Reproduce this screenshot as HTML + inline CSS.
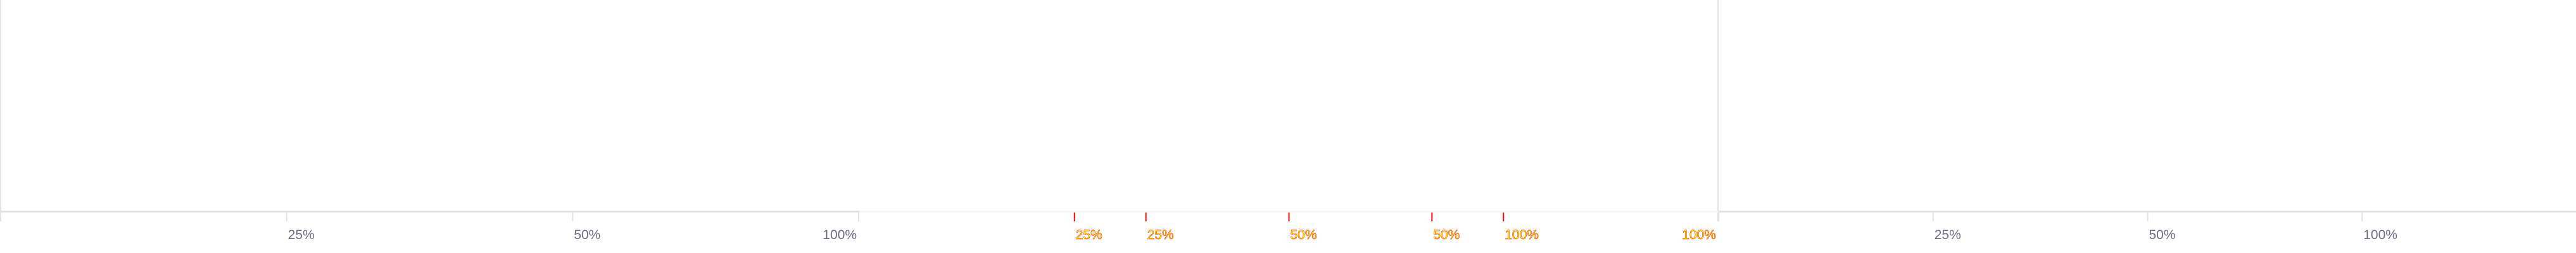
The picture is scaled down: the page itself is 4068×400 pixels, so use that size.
<!DOCTYPE html>
<html><head><meta charset="utf-8"><style>
html,body{margin:0;padding:0;background:#fff;width:4068px;height:400px;overflow:hidden}
svg{display:block}
text{font-family:"Liberation Sans",sans-serif;font-size:21px}
</style></head><body>
<svg id="chart" width="4068" height="400" xmlns="http://www.w3.org/2000/svg">
<rect x="0" y="0" width="4068" height="400" fill="#fff"/>
<rect x="0" y="0" width="2" height="350" fill="#e3e3e3"/>
<rect x="2712" y="0" width="2" height="350" fill="#e3e3e3"/>
<rect x="0" y="333" width="1357" height="3" fill="#e3e3e3"/>
<rect x="1357" y="333" width="1356" height="3" fill="#f6f6f6"/>
<rect x="2713" y="333" width="1355" height="3" fill="#e3e3e3"/>
<g id="ticks"></g>
</svg>
<script>
const panelStarts = [0, 1357, 2713];
const panelWidth = 1355;
const leftFracs = [0, 1/3, 2/3, 1];
const leftLabels = ["", "25%", "50%", "100%"];
const midFracs = [1/4, 1/3, 1/2, 2/3, 3/4, 1];
const midLabels = ["25%", "25%", "50%", "50%", "100%", "100%"];
const rightFracs = [0, 1/4, 1/2, 3/4];
const rightLabels = ["", "25%", "50%", "100%"];

const NS = "http://www.w3.org/2000/svg";
const g = document.getElementById('ticks');
function xScale(panel, f){ return panelStarts[panel] + f * panelWidth; }
function drawAxis(panel, fracs, labels, style){
  fracs.forEach((f, i) => {
    const x = xScale(panel, f);
    const t = document.createElementNS(NS, 'rect');
    
    
    t.setAttribute('x', Math.min(x, 4066));
    t.setAttribute('y', 336);
    t.setAttribute('width', 2);
    t.setAttribute('height', 14);
    t.setAttribute('fill', style === 'red' ? '#ff0000' : '#e3e3e3');
    if (!(style === 'red' && f === 1)) g.appendChild(t);
    if (labels[i]) {
      const tx = document.createElementNS(NS, 'text');
      
      
      tx.setAttribute('x', f === 1 ? x - 2 : x + 3);
      tx.setAttribute('y', 378);
      tx.setAttribute('text-anchor', f === 1 ? 'end' : 'start');
      if (style === 'red') {
        tx.setAttribute('fill', '#ffff00');
        tx.setAttribute('stroke', '#ff0000');
        tx.setAttribute('stroke-width', '0.5');
      } else {
        tx.setAttribute('fill', '#6b6e80');
      }
      tx.textContent = labels[i];
      g.appendChild(tx);
    }
  });
}
drawAxis(0, leftFracs, leftLabels, 'gray');
drawAxis(1, midFracs, midLabels, 'red');
drawAxis(2, rightFracs, rightLabels, 'gray');
</script>
</body></html>
